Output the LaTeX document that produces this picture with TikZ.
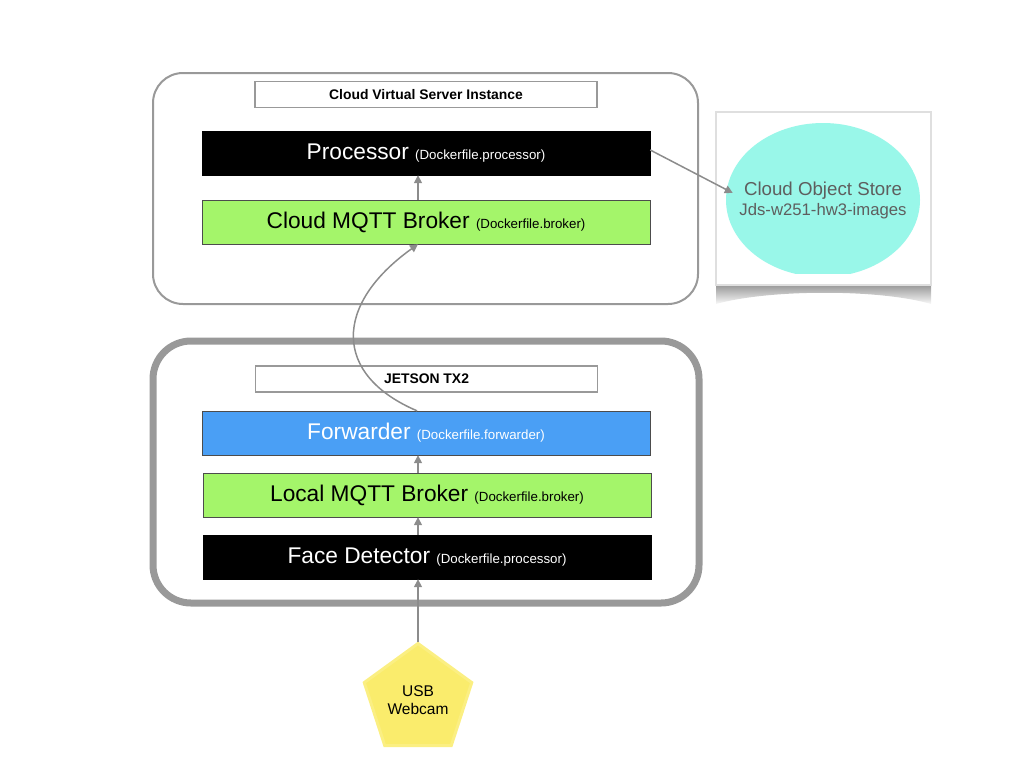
\documentclass[tikz,border=0pt]{standalone}
\usepackage{fontspec}
\setmainfont{Liberation Sans}
\usetikzlibrary{arrows.meta, shapes.geometric}
\definecolor{boxgray}{HTML}{999999}
\definecolor{arrowgray}{HTML}{8C8C8C}
\definecolor{mqttgreen}{HTML}{A4F56A}
\definecolor{fwdblue}{HTML}{4A9FF5}
\definecolor{storeaqua}{HTML}{99F7E9}
\definecolor{storetext}{HTML}{5E5E5E}
\definecolor{camyellow}{HTML}{FAEC6C}
\newcommand\dockf[1]{{\fontsize{13.3}{16}\selectfont(Dockerfile.#1)}}

\begin{document}
\begin{tikzpicture}[x=1pt, y=-1pt,
  layer/.style={draw=black!70, minimum width=448pt, minimum height=44pt, inner sep=0pt, font=\fontsize{22.7}{26}\selectfont},
  darklayer/.style={layer, draw=black, fill=black, text=white},
  title/.style={draw=boxgray, line width=1.5pt, fill=white, minimum width=342pt, minimum height=26pt, inner sep=0pt, font=\bfseries\fontsize{13.9}{16}\selectfont},
  flow/.style={draw=arrowgray, line width=1.5pt, -{Triangle[length=8pt, width=8pt]}}]
\useasboundingbox (0,0) rectangle (1024,768);
\node[draw=boxgray, line width=2pt, rounded corners=30pt, minimum width=545pt, minimum height=231pt] (cloud) at (425.5,188.5) {};
\node[draw=boxgray, line width=7pt, rounded corners=38pt, minimum width=546pt, minimum height=262pt] (jetson) at (426,472) {};
\node[title] (cloudtitle) at (426,94.5) {Cloud Virtual Server Instance};
\node[title] (jetsontitle) at (426.5,379) {JETSON TX2};
\node[darklayer] (proc) at (426,153) {Processor \dockf{processor}};
\node[layer, fill=mqttgreen] (cbroker) at (426,222) {Cloud MQTT Broker \dockf{broker}};
\node[layer, fill=fwdblue, text=white] (fwd) at (426,433) {Forwarder \dockf{forwarder}};
\node[layer, fill=mqttgreen] (local) at (427,495) {Local MQTT Broker \dockf{broker}};
\node[darklayer] (face) at (427,557) {Face Detector \dockf{processor}};
\shade[top color=gray!80, bottom color=gray!5] (716,285) -- (931,285) -- (931,304) .. controls (880,289) and (770,289) .. (716,304) -- cycle;
\node[draw=gray!25, line width=1.5pt, fill=white, minimum width=215pt, minimum height=173pt] (frame) at (823.5,198.5) {};
\begin{scope}
\clip (716,112) rectangle (931,273);
\node[ellipse, fill=storeaqua, minimum width=194pt, minimum height=154pt, inner sep=0pt] (store) at (823,200) {};
\end{scope}
\node[align=center, text=storetext, font=\fontsize{18.7}{20}\selectfont] (storelabel) at (store.center) {Cloud Object Store\\{\fontsize{16.7}{20}\selectfont Jds-w251-hw3-images}};
\node[regular polygon, regular polygon sides=5, minimum size=113pt, inner sep=0pt, fill=camyellow, draw=camyellow!85!white, line width=3pt, align=center, font=\fontsize{15.5}{18}\selectfont] (cam) at (418,700) {USB\\Webcam};
\draw[flow] ([xshift=-8pt]cbroker.north) -- ([xshift=-8pt]proc.south);
\draw[flow] ([xshift=-9pt]fwd.north) .. controls (333,375) and (333,305) .. ([xshift=-8pt]cbroker.south);
\draw[flow] ([xshift=-9pt]local.north) -- ([xshift=-8pt]fwd.south);
\draw[flow] ([xshift=-9pt]face.north) -- ([xshift=-9pt]local.south);
\draw[flow] (cam.north) -- (cam.north |- face.south);
\draw[flow] ([yshift=3pt]proc.east) -- ([xshift=7pt, yshift=7pt]store.west);
\end{tikzpicture}
\end{document}
